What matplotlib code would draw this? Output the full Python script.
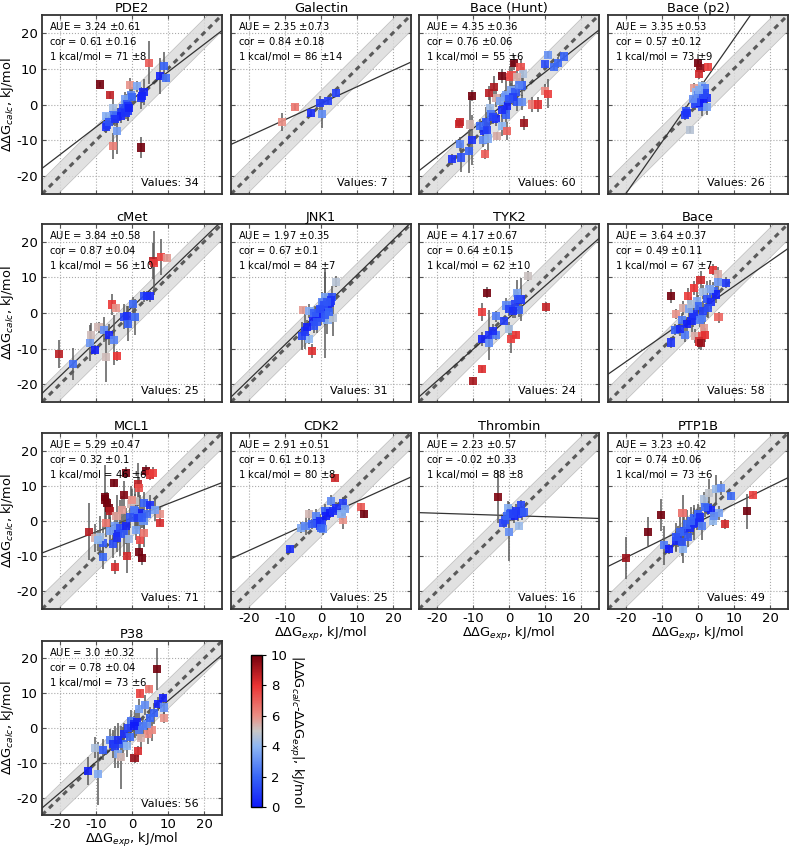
import numpy as np
import matplotlib
matplotlib.use('Agg')
import matplotlib.pyplot as plt
from matplotlib.colors import LinearSegmentedColormap, Normalize

plt.rcParams['axes.unicode_minus'] = False

# ---- data ----
titles = ['PDE2', 'Galectin', 'Bace (Hunt)', 'Bace (p2)', 'cMet', 'JNK1', 'TYK2', 'Bace',
          'MCL1', 'CDK2', 'Thrombin', 'PTP1B', 'P38']
aue = ['3.24', '2.35', '4.35', '3.35', '3.84', '1.97', '4.17', '3.64', '5.29', '2.91', '2.23', '3.23', '3.0']
aue_err = ['0.61', '0.73', '0.36', '0.53', '0.58', '0.35', '0.67', '0.37', '0.47', '0.51', '0.57', '0.42', '0.32']
cor = ['0.61', '0.84', '0.76', '0.57', '0.87', '0.67', '0.64', '0.49', '0.32', '0.61', '-0.02', '0.74', '0.78']
cor_err = ['0.16', '0.18', '0.06', '0.12', '0.04', '0.1', '0.15', '0.11', '0.1', '0.13', '0.33', '0.06', '0.04']
kcal = ['71', '86', '55', '73', '56', '84', '62', '67', '46', '80', '88', '73', '73']
kcal_err = ['8', '14', '6', '9', '10', '7', '10', '7', '6', '8', '8', '6', '6']
n_values = [34, 7, 60, 26, 25, 31, 24, 58, 71, 25, 16, 49, 56]
fit_slope = [0.77, 0.46, 0.786, 1.44, 0.97, 0.98, 0.89, 0.706, 0.40, 0.464, -0.033, 0.504, 0.88]
fit_icpt = [1.4, 0.35, 1.15, 3.95, 1.65, 0.9, -1.3, 0.45, 0.9, 0.9, 1.55, -0.3, -1.0]

pde2_x = [-8.9, -6.1, -0.5, 4.6, 8.9, 7.8, 9.5, 1.5, 3.2, 2.5, -0.3, -2.0, -1.5, -1.0, -3.8, -4.1, -5.4,
          -5.2, -6.9, -7.1, -7.1, -4.1, -5.2, 2.5, -2.4, -2.9, -1.2, -3.0, 0.0, -6.5, -1.8, -4.6, 2.8, -0.8]
pde2_y = [5.6, 2.6, 5.4, 11.7, 10.8, 8.0, 7.3, 5.1, 3.5, 1.8, 2.6, 1.4, 0.0, -1.7, -2.4, -3.6, -1.0,
          -2.9, -5.7, -6.4, -3.3, -7.4, -11.6, -12.0, -1.0, -2.0, -0.5, -3.2, 2.0, -5.0, -2.5, -4.0, 2.5, -1.0]
pde2_e = [0.8, 1.0, 2.0, 6.0, 4.0, 5.0, 1.0, 1.5, 3.5, 3.0, 1.5, 2.0, 3.0, 3.0, 1.5, 2.0, 2.5,
          2.0, 1.5, 1.5, 1.0, 6.5, 3.5, 3.0, 2.0, 1.5, 4.0, 2.0, 3.0, 1.0, 1.5, 2.0, 2.0, 2.0]

gal_x = [-10.9, -7.3, -2.9, 0.3, -0.4, 2.0, 4.1]
gal_y = [-4.9, -0.7, -2.4, -2.6, 0.5, 1.1, 3.1]
gal_e = [2.5, 0.8, 1.0, 4.0, 2.0, 1.0, 1.0]

bh_x = [-10.2, -14.0, -13.6, -10.9, -13.7, -10.4, -11.2, -13.4, -15.9, -6.7,
        -7.2, -6.9, -6.3, -5.3, -5.1, -5.8, -3.3, -3.7, -1.9, -3.7,
        -5.5, -4.1, -2.0, -0.9, -0.5, -0.7, -0.5, 1.2, 0.2, 0.7,
        1.3, 3.2, 3.9, 2.3, 3.5, 2.1, 3.6, 4.2, 6.5, 8.1,
        9.9, 10.8, 9.9, 12.6, 13.7, 15.3, 10.8, -1.2, -2.5, 0.5,
        1.8, -4.5, -8.0, 2.8, -2.0, 1.0, -6.0, 0.0]
bh_y = [2.5, -5.5, -5.0, -5.6, -11.0, -9.8, -13.1, -14.8, -15.3, -13.8,
        -10.0, -7.4, -4.8, -1.0, -2.7, -9.5, -8.8, -4.1, -5.9, 1.8,
        3.3, 5.0, 8.0, -2.8, -7.5, 2.7, -0.3, 2.9, 7.8, 8.2,
        11.7, 10.6, 8.4, 7.7, 5.3, 0.7, 0.6, -5.1, 0.0, 0.0,
        3.7, 3.0, 11.2, 10.5, 11.7, 13.4, 13.9, 2.0, 1.0, 4.0,
        3.5, -3.5, -6.0, 5.5, -1.5, 2.0, -7.0, 1.5]
bh_e = [1.5, 1.0, 1.0, 8.0, 2.0, 7.0, 6.0, 4.0, 1.5, 1.5,
        2.0, 3.0, 4.0, 3.0, 2.0, 3.5, 1.0, 2.0, 3.0, 2.5,
        2.0, 3.0, 2.0, 2.0, 2.5, 5.0, 2.0, 2.5, 3.0, 4.0,
        2.0, 2.0, 2.0, 2.0, 3.0, 2.5, 2.0, 2.0, 2.0, 2.0,
        2.0, 4.0, 1.0, 1.0, 1.5, 1.0, 1.0, 2.0, 2.0, 2.0,
        2.0, 2.0, 2.0, 2.0, 2.0, 2.0, 2.0, 2.0]

bp2_x = [0.1, 0.7, 0.2, 2.8, -1.2, -0.5, 1.0, 1.9, 0.0, 2.4, 1.4, -0.9, 1.0, 0.5, -3.4, -3.7, -3.0, -2.3,
         1.4, -0.6, 2.0, -1.5, 0.3, 2.6]
bp2_y = [11.5, 10.3, 8.6, 10.6, 4.6, 3.5, 5.1, 4.5, 2.7, 1.8, 1.3, 0.1, -0.6, 0.5, -1.8, -2.9, -2.3, -7.0,
         2.7, 0.8, 3.2, 1.5, 4.0, -0.8]
bp2_e = [2.5, 1.5, 1.5, 1.0, 1.5, 1.5, 1.5, 1.5, 2.0, 1.5, 1.5, 1.5, 2.5, 1.5, 1.5, 1.5, 1.5, 1.0,
         1.5, 1.5, 1.5, 1.5, 1.5, 2.0]

cm_x = [-20.3, -16.5, -11.7, -11.5, -10.3, -9.3, -7.1, -7.7, -6.4, -5.0, -4.1, -5.5, -4.5,
        -2.2, -1.5, -1.2, 0.4, 0.9, 3.4, 5.0, 4.2, 5.8, 6.2, 8.0, 9.7]
cm_y = [-11.5, -14.3, -8.5, -6.3, -10.4, -4.0, -12.3, -4.7, -6.1, -7.7, -12.1, 2.4, 1.4,
        -1.1, -0.9, -3.0, 2.5, -1.2, 4.7, 4.7, 4.8, 14.6, 14.0, 15.7, 15.5]
cm_e = [4.0, 4.5, 5.0, 3.5, 1.5, 1.5, 7.0, 3.5, 3.0, 7.0, 1.5, 3.0, 1.0,
        3.5, 3.0, 5.0, 2.0, 5.0, 1.5, 1.5, 1.5, 5.0, 9.0, 5.0, 1.0]

jn_x = [-5.0, -2.4, -3.3, -5.2, -4.4, -3.2, -2.2, -1.3, -0.4, 0.6, 1.0, 3.1, 2.4, 1.8, 3.3, 4.1,
        0.0, -1.0, 1.5, -2.0, 0.3, 2.0, -0.5, 1.2, -1.8, 2.8, 0.8, -3.8, 1.6, -0.2, 2.2]
jn_y = [0.8, -10.6, -7.3, -6.4, -5.2, 0.5, -2.4, -0.9, 0.9, 1.9, 4.5, 4.6, 2.8, -1.9, -1.4, 8.8,
        -1.5, -2.5, 0.5, -3.5, 3.0, 1.5, -0.3, -0.5, 0.0, 3.5, 2.2, -4.0, 3.2, 1.2, 0.2]
jn_e = [1.0, 2.0, 1.5, 4.0, 5.0, 2.0, 2.0, 2.5, 3.0, 2.5, 8.0, 3.0, 2.5, 4.0, 5.0, 1.5,
        2.0, 3.0, 2.0, 2.0, 3.0, 2.5, 2.0, 12.0, 2.0, 2.0, 2.0, 2.0, 2.0, 2.0, 2.0]

ty_x = [-10.0, -7.6, -7.5, -6.2, -7.6, -5.6, -5.5, -3.5, -3.5, -1.3, 0.0, 0.5, 1.9, -0.7, 0.0, 1.6,
        2.1, 3.2, 2.8, 5.3, 10.3, 1.0, 2.6, -4.5]
ty_y = [-19.1, -15.8, 0.3, 5.7, -7.4, -8.5, -6.1, -6.1, -0.9, -2.2, -4.4, -7.3, -6.1, 2.1, 1.1, 2.5,
        5.7, 3.8, 0.9, 10.4, 1.7, 0.5, 4.0, -5.0]
ty_e = [1.0, 1.0, 2.5, 1.5, 2.0, 1.0, 7.0, 1.5, 1.5, 1.0, 2.0, 4.0, 1.0, 2.0, 2.0, 4.0,
        3.5, 6.0, 2.0, 1.5, 1.5, 2.0, 2.0, 2.0]

bc_x = [-7.6, -6.2, -6.5, -7.6, -2.9, -1.0, -4.1, 0.7, 4.1, 5.5, 4.3, 7.7, 5.5, 5.0, 3.2, 1.5, -0.4, -1.3,
        -1.8, -1.0, 1.0, 1.6, -0.9, 1.0, 2.0, 0.4, 0.9, 5.7, -3.6, -4.5, -2.5, 0.0, 2.5, -3.0, 1.5, 3.5,
        -2.0, 0.5, -5.0, 2.8]
bc_y = [4.7, -0.3, -4.7, -8.3, 4.9, 7.0, 1.4, 9.2, 12.2, 11.0, 6.3, 8.5, 8.7, 5.2, 6.8, 5.8, 3.3, -0.9,
        -2.2, -0.3, -1.4, -4.2, -6.4, -6.4, -6.1, -8.0, -8.5, -1.2, -6.1, -2.0, 1.0, 2.0, 4.0, -3.0, 0.5, 3.0,
        2.5, -2.0, -4.5, 1.5]
bc_e = [2.0, 1.5, 1.5, 1.5, 2.0, 2.0, 2.0, 2.5, 1.5, 2.0, 2.5, 1.5, 3.0, 2.5, 2.5, 2.0, 3.0, 3.0,
        3.0, 3.0, 3.0, 2.0, 2.0, 2.0, 2.0, 2.0, 2.0, 1.5, 2.0, 2.0, 3.0, 3.0, 5.0, 2.0, 3.0, 2.0,
        2.0, 2.0, 2.0, 3.0]

mc_x = [-11.9, -10.3, -8.0, -8.0, -4.7, -5.2, -8.9, -7.5, -7.4, -6.9,
        -6.3, -6.1, -4.9, -7.1, -6.1, -3.8, -4.1, -4.3, -4.8, -3.3,
        -1.7, -2.2, -1.5, -0.4, 0.8, -1.7, -2.2, -0.9, 0.8, 1.3,
        2.2, 1.6, 2.0, 2.2, 2.0, 2.9, 3.3, 3.3, 5.0, 3.2,
        1.8, 3.8, 5.0, 5.9, 7.8, 7.8, 0.5, -0.5, 1.0, 4.2,
        -2.8, 6.5, -9.5, 0.0, 2.8]
mc_y = [-3.0, -4.9, -6.3, -10.1, -13.0, -6.6, -4.5, 6.1, 6.8, 5.2,
        3.6, 2.8, 10.8, -0.5, -2.8, -3.3, -4.7, 1.4, -1.5, -2.0,
        13.7, 7.5, -9.9, 4.9, 5.8, -1.4, -3.8, -5.2, 2.8, 1.4,
        2.4, 10.4, 9.4, -5.4, -8.7, -10.4, -3.3, 5.2, 4.5, 0.0,
        0.8, 14.3, 13.2, 13.7, 1.9, -0.5, 3.0, 1.0, -2.5, 2.0,
        3.0, 3.0, -5.5, 6.0, 1.0]
mc_e = [8.0, 4.0, 5.0, 3.5, 2.0, 4.0, 6.0, 2.0, 9.0, 3.0,
        3.0, 3.0, 1.0, 4.0, 4.0, 3.0, 4.0, 6.0, 4.0, 8.0,
        1.5, 4.0, 5.0, 5.0, 5.0, 5.0, 6.0, 4.0, 5.0, 5.0,
        5.0, 6.0, 3.0, 3.0, 3.0, 2.0, 4.0, 3.0, 3.0, 3.0,
        3.0, 1.5, 1.5, 1.5, 2.0, 1.0, 3.0, 3.0, 3.0, 3.0,
        4.0, 3.0, 3.0, 3.0, 3.0]

cd_x = [-8.5, -5.5, -4.3, -3.4, -1.3, -0.4, 0.3, -0.4, 0.6, 1.0, 2.4, 2.9, 4.3, 6.1, 6.6, 6.1, 3.8,
        11.2, 12.0, 5.7, 1.5, -1.0, 0.0, 3.3, -2.5]
cd_y = [-8.0, -1.9, -1.5, 1.9, 1.4, 0.0, -0.5, -1.4, -2.4, 2.8, 2.4, 5.8, 3.8, 5.2, 3.3, 0.2, 12.3,
        4.0, 1.9, 1.9, 1.5, -0.5, -2.0, 2.8, -0.8]
cd_e = [1.0, 1.5, 2.5, 1.5, 2.0, 2.0, 1.5, 2.0, 1.5, 2.0, 1.5, 1.5, 1.5, 1.5, 2.0, 2.5, 1.0,
        1.0, 1.0, 1.5, 1.5, 1.5, 1.5, 1.5, 1.5]

th_x = [-3.0, -1.2, -1.6, 0.0, -0.2, 0.7, 1.3, 2.6, 3.3, 3.5, 2.8, 4.2, 0.3, -0.5, 2.0, 1.0]
th_y = [6.8, 0.2, -0.5, -3.0, 3.6, 2.4, 1.4, 1.9, 4.5, 2.4, -1.4, 2.5, 2.0, 1.5, 2.8, 2.0]
th_e = [7.5, 1.0, 1.0, 8.5, 2.0, 2.0, 2.0, 2.0, 1.5, 2.0, 1.0, 1.5, 2.0, 2.0, 2.0, 2.0]

pt_x = [-19.9, -13.8, -10.4, -9.4, -8.0, -6.0, -5.5, -4.1, -4.3, -3.9,
        -2.3, -1.5, -1.2, -0.4, 0.0, -2.9, 1.6, 2.8, 3.5, 4.1,
        3.1, 5.0, 6.4, 9.2, 5.9, 7.6, 13.7, 15.2, -5.0, -3.0,
        -1.0, 0.5, -6.0, 2.0, -2.0, -4.5, 1.0, 4.5]
pt_y = [-10.6, -3.0, 1.7, -6.9, -8.0, -5.7, -4.5, -8.0, 2.4, -2.8,
        -1.9, -0.9, 0.8, 0.5, 1.9, -4.5, 6.1, 3.6, 3.2, 0.0,
        8.0, 9.2, 9.4, 7.1, 2.4, -0.8, 2.8, 7.5, -3.0, -1.0,
        -0.5, 1.0, -4.5, 4.0, 0.0, -6.0, -1.5, 1.5]
pt_e = [6.0, 4.0, 4.5, 5.5, 1.5, 3.0, 3.0, 4.0, 5.0, 4.0,
        3.0, 3.0, 3.0, 3.0, 3.0, 3.0, 2.0, 2.0, 2.0, 1.5,
        4.0, 4.0, 2.0, 1.0, 2.0, 1.5, 5.0, 1.0, 4.0, 4.0,
        5.0, 3.0, 4.0, 3.0, 4.0, 4.0, 4.0, 2.0]

p38_x = [-12.2, -9.4, -10.2, -8.0, -6.1, -5.2, -4.6, -3.8, -3.1, -2.6,
         -2.2, -1.3, -0.3, -0.6, 0.7, 1.6, 0.7, 1.3, 2.0, 3.6,
         2.2, 4.7, 6.9, 7.1, 8.7, 8.9, 8.9, 6.0, 4.5, 5.5,
         2.5, 4.2, 3.0, 2.0, -4.0, -1.0, 0.5, 5.0]
p38_y = [-12.4, -13.1, -5.7, -6.3, -3.4, -4.6, -5.5, -7.4, -8.4, -4.6,
         -1.7, -5.3, 2.1, -2.7, -8.7, -6.7, 1.1, 1.6, 5.4, 6.6,
         9.9, 11.3, 17.0, 6.9, 8.6, 5.9, 3.0, 4.2, -1.7, -0.6,
         -2.9, 1.1, 0.5, -0.5, -3.5, 0.0, 0.5, 3.0]
p38_e = [4.0, 9.0, 3.0, 3.0, 3.0, 4.0, 6.0, 4.0, 9.0, 5.0,
         3.0, 3.0, 3.0, 3.0, 1.5, 1.5, 4.0, 4.0, 3.0, 3.0,
         1.0, 1.0, 6.0, 2.0, 1.5, 2.0, 1.5, 3.0, 3.0, 3.0,
         3.0, 3.0, 3.0, 3.0, 5.0, 3.0, 3.0, 3.0]

all_x = [pde2_x, gal_x, bh_x, bp2_x, cm_x, jn_x, ty_x, bc_x, mc_x, cd_x, th_x, pt_x, p38_x]
all_y = [pde2_y, gal_y, bh_y, bp2_y, cm_y, jn_y, ty_y, bc_y, mc_y, cd_y, th_y, pt_y, p38_y]
all_e = [pde2_e, gal_e, bh_e, bp2_e, cm_e, jn_e, ty_e, bc_e, mc_e, cd_e, th_e, pt_e, p38_e]

# ---- style ----
cmap = LinearSegmentedColormap.from_list('bgr', [
    (0.0, (0.06, 0.1, 0.98)),
    (0.2, (0.22, 0.4, 0.97)),
    (0.4, (0.56, 0.72, 0.95)),
    (0.5, (0.78, 0.78, 0.78)),
    (0.6, (0.92, 0.56, 0.52)),
    (0.8, (0.92, 0.2, 0.2)),
    (1.0, (0.45, 0.0, 0.05))])
norm = Normalize(0, 10)
kcal_kj = 4.184

fig = plt.figure(figsize=(7.89, 8.48), dpi=100)
W, H = 789.0, 848.0
col_left = [42, 231, 419, 608]
row_top = [15, 224, 433, 641]
row_bot = [194, 402, 609, 815]
pw = 180

ylab = r'$\Delta\Delta$G$_{calc}$, kJ/mol'
xlab = r'$\Delta\Delta$G$_{exp}$, kJ/mol'
ticks = [-20, -10, 0, 10, 20]
line = np.array([-25, 25])

for i, name in enumerate(titles):
    r, c = divmod(i, 4)
    ph = row_bot[r] - row_top[r]
    ax = fig.add_axes([col_left[c] / W, 1 - row_bot[r] / H, pw / W, ph / H])
    x = np.array(all_x[i]); y = np.array(all_y[i]); e = np.array(all_e[i])

    ax.fill_between(line, line - kcal_kj, line + kcal_kj, color='#dadada', alpha=0.8,
                    edgecolor='#b0b0b0', lw=0.5, zorder=1)
    ax.plot(line, line, color='#5a5a5a', lw=2.2, ls=(0, (1.7, 1.5)), zorder=2)
    ax.plot(line, fit_slope[i] * line + fit_icpt[i], color='#333333', lw=0.9, zorder=2)
    ax.errorbar(x, y, yerr=e, fmt='none', ecolor='#5a5a5a', elinewidth=1.1, zorder=3)
    ax.scatter(x, y, c=np.abs(y - x), cmap=cmap, norm=norm, marker='s', s=34,
               edgecolors='none', alpha=0.9, zorder=4)

    ax.set_xlim(-25, 25); ax.set_ylim(-25, 25)
    ax.set_xticks(ticks); ax.set_yticks(ticks)
    ax.grid(True, color='#aaaaaa', ls=':', lw=0.8)
    ax.set_axisbelow(True)
    ax.tick_params(direction='in', length=3, top=True, right=True, labelsize=9.5, color='#555555',
                   pad=3)
    ax.tick_params(axis='x', pad=2)
    for s in ax.spines.values():
        s.set_linewidth(1.3); s.set_color('#333333')
    ax.set_title(name, fontsize=9.4, pad=2.5)

    txt = ('AUE = %s $\\pm$%s\ncor = %s $\\pm$%s\n1 kcal/mol = %s $\\pm$%s'
           % (aue[i], aue_err[i], cor[i], cor_err[i], kcal[i], kcal_err[i]))
    ax.text(0.04, 0.97, txt, transform=ax.transAxes, ha='left', va='top', fontsize=7.2,
            linespacing=1.3, zorder=6)
    ax.text(0.87, 0.035, 'Values: %d' % n_values[i], transform=ax.transAxes, ha='right',
            va='bottom', fontsize=8, zorder=6)

    if c == 0:
        ax.set_ylabel(ylab, fontsize=9.3)
        ax.yaxis.set_label_coords(-0.145, 0.5)
    else:
        ax.tick_params(labelleft=False)
    if i >= 9:
        ax.set_xlabel(xlab, fontsize=9.3, labelpad=0)
    else:
        ax.tick_params(labelbottom=False)

cax = fig.add_axes([251 / W, 1 - 807 / H, 11 / W, 152 / H])
cb = fig.colorbar(plt.cm.ScalarMappable(norm=norm, cmap=cmap), cax=cax, ticks=[0, 2, 4, 6, 8, 10])
cb.ax.tick_params(labelsize=9.5, length=3)
cb.outline.set_linewidth(1.0)
cb.set_label(r'|$\Delta\Delta$G$_{calc}$-$\Delta\Delta$G$_{exp}$|, kJ/mol', rotation=270,
             fontsize=9.3, labelpad=12)

fig.savefig('out.png', dpi=100)
